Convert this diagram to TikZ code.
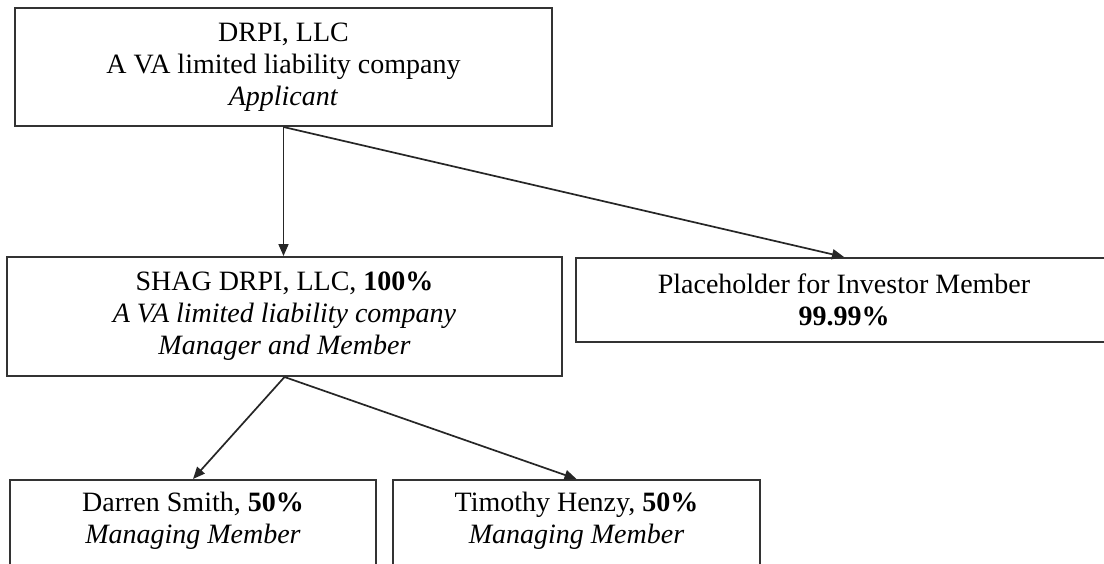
\documentclass[tikz,border=0pt]{standalone}
\usepackage{fontspec}
\setmainfont{Liberation Serif}
\usetikzlibrary{arrows.meta}
\tikzset{
  entity/.style={draw=black!80, line width=2pt, inner sep=0pt, align=center,
    font=\fontsize{28}{32}\selectfont},
  link/.style={draw=black!85, line width=1.7pt, -{Triangle[length=12pt,width=10pt]}}
}
\begin{document}
\begin{tikzpicture}[x=1pt,y=-1pt]
\useasboundingbox (0,0) rectangle (1104,563);
\clip (0,0) rectangle (1104,563);
\fill[white] (0,0) rectangle (1104,563);
\node[entity, minimum width=537pt, minimum height=118pt] (drpi) at (283.5,67)
  {DRPI, LLC\\A VA limited liability company\\\textit{Applicant}};
\node[entity, minimum width=555pt, minimum height=119pt] (shag) at (284.5,316.5)
  {SHAG DRPI, LLC, \textbf{100\%}\\\textit{A VA limited liability company}\\\textit{Manager and Member}};
\node[entity, minimum width=536pt, minimum height=84pt] (place) at (844,300)
  {Placeholder for Investor Member\\\textbf{99.99\%}};
\node[entity, minimum width=366pt, minimum height=118pt] (darren) at (193,539)
  {Darren Smith, \textbf{50\%}\\\textit{Managing Member}\\\strut};
\node[entity, minimum width=367pt, minimum height=118pt] (tim) at (576.5,539)
  {Timothy Henzy, \textbf{50\%}\\\textit{Managing Member}\\\strut};
\draw[link] (drpi.south) -- (drpi.south |- shag.north);
\draw[link] (drpi.south) -- (place.north);
\draw[link] (shag.south) -- (darren.north);
\draw[link] (shag.south) -- (tim.north);
\end{tikzpicture}
\end{document}
